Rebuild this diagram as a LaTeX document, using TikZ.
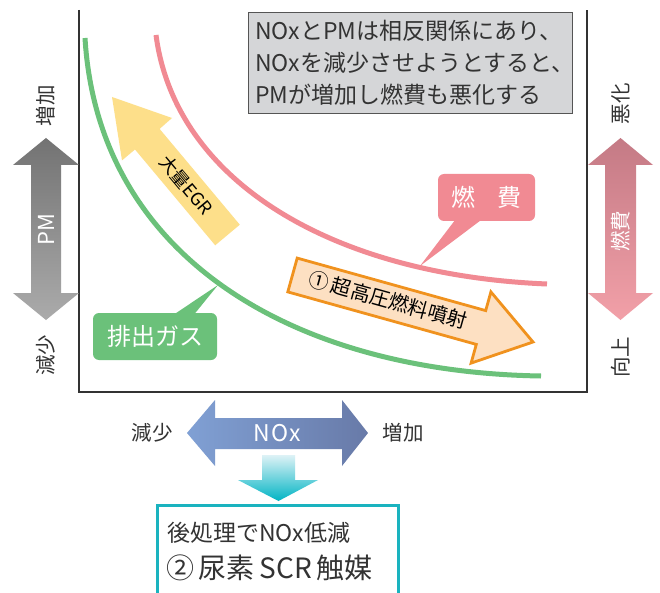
\documentclass[tikz,border=0pt]{standalone}
\usepackage{fontspec}
\setmainfont{Noto Sans CJK JP}
\usetikzlibrary{calc}
\definecolor{txt}{HTML}{333333}
\definecolor{greenc}{HTML}{6BC17A}
\definecolor{pinkc}{HTML}{F18A93}
\definecolor{boxgray}{HTML}{D5D6D8}
\definecolor{boxedge}{HTML}{555555}
\definecolor{egr}{HTML}{FDDF8A}
\definecolor{orfill}{HTML}{FDE0C2}
\definecolor{oredge}{HTML}{F0921E}
\definecolor{cyanc}{HTML}{1AB3BF}
\tikzset{
  curve/.style={line width=5pt},
  lbl/.style={text=txt, font=\fontsize{20.5}{22}\selectfont, inner sep=0pt},
  callout/.style={rounded corners=6pt, text=white, font=\fontsize{24}{26}\selectfont, inner sep=0pt},
}
\begin{document}
\begin{tikzpicture}[x=1pt,y=-1pt]
\clip (0,0) rectangle (660,593);
\useasboundingbox (0,0) rectangle (660,593);
\fill[white] (0,0) rectangle (660,593);

% frame
\draw[line width=1.6pt, black!80] (79,10) -- (79,392) -- (587,392) -- (587,10);

% curves
\draw[curve, greenc] (85,38) .. controls (98,255) and (290,372) .. (541,376);
\draw[curve, pinkc] (156,35) .. controls (175,180) and (330,275) .. (547,284);

% top text box
\node[draw=boxedge, line width=1pt, fill=boxgray, minimum width=324pt, minimum height=101pt, anchor=north west, inner sep=0pt] (note) at (248,12) {};
\node[text=txt, align=left, anchor=west, inner sep=0pt, font=\fontsize{23}{32}\selectfont] (notetext) at ([xshift=7pt]note.west)
  {NOxとPMは相反関係にあり、\\NOxを減少させようとすると、\\PMが増加し燃費も悪化する};

% EGR arrow
\fill[egr] (112,97) -- (172,118) -- (159.6,128.9) -- (239.8,224.7) -- (215.2,245.3) -- (135,149.5) -- (122,160.4) -- cycle;
\node[rotate=-50, text=black, inner sep=0pt, font=\fontsize{18}{20}\selectfont] (egrtext) at (186,185) {大量EGR};

% fuel injection arrow
\draw[fill=orfill, draw=oredge, line width=2.8pt, line join=miter] (297.2,258.1) -- (485.7,310.6) -- (490.9,291.9) -- (533,342) -- (471.1,363.1) -- (476.3,344.4) -- (287.8,291.9) -- cycle;
\node[rotate=-15.6, text=black, inner sep=0pt, font=\fontsize{20}{22}\selectfont] (injtext) at (388,300) {①\,超高圧燃料噴射};

% callouts
\node[callout, fill=pinkc, minimum width=97pt, minimum height=47pt] (fuel) at (486.5,197.5) {燃\hspace{0.9em}費};
\coordinate (fueltip) at (420,266);
\fill[pinkc] ([xshift=-30pt,yshift=3pt]fuel.south) -- (fueltip) -- ([xshift=-3pt,yshift=3pt]fuel.south) -- cycle;

\node[callout, fill=greenc, minimum width=124pt, minimum height=47pt] (exhaust) at (155,336.5) {排出ガス};
\coordinate (exhausttip) at (218,285);
\fill[greenc] ([xshift=17pt,yshift=-3pt]exhaust.north) -- (exhausttip) -- ([xshift=38pt,yshift=-3pt]exhaust.north) -- cycle;

% PM arrow (left)
\path[top color=black!55, bottom color=black!33] (46,138) -- (79,165) -- (61,165) -- (61,293) -- (79,293) -- (46,320) -- (13,293) -- (31,293) -- (31,165) -- (13,165) -- cycle;
\node[rotate=90, text=white, inner sep=0pt, font=\fontsize{22}{24}\selectfont] (pm) at (46,230) {PM};
\node[lbl, rotate=90] (pmup) at (46,106) {増加};
\node[lbl, rotate=90] (pmdown) at (46,355) {減少};

% fuel arrow (right)
\path[top color={rgb,255:red,196;green,122;blue,133}, bottom color={rgb,255:red,242;green,160;blue,168}] (620.5,138) -- (653,165) -- (636,165) -- (636,293) -- (653,293) -- (620.5,320) -- (588,293) -- (605,293) -- (605,165) -- (588,165) -- cycle;
\node[rotate=90, text=white, inner sep=0pt, font=\fontsize{20.5}{22}\selectfont] (fc) at (620.5,231) {燃費};
\node[lbl, rotate=90] (fcup) at (620.5,104) {悪化};
\node[lbl, rotate=90] (fcdown) at (620.5,357) {向上};

% NOx arrow
\path[left color={rgb,255:red,128;green,160;blue,212}, right color={rgb,255:red,104;green,122;blue,168}] (187,433) -- (215,400) -- (215,418) -- (342,418) -- (342,400) -- (368,433) -- (342,466) -- (342,449) -- (215,449) -- (215,466) -- cycle;
\node[text=white, inner sep=0pt, font=\fontsize{23}{25}\selectfont] (nox) at (277,433) {N\kern1ptO\kern1ptx};
\node[lbl] (noxdown) at (152,433) {減少};
\node[lbl] (noxup) at (403,433) {増加};

% cyan down arrow
\path[top color={rgb,255:red,222;green,242;blue,246}, bottom color={rgb,255:red,0;green,180;blue,196}] (262,455) -- (295,455) -- (295,480) -- (318,480) -- (278.5,501) -- (238,480) -- (262,480) -- cycle;

% bottom box
\draw[cyanc, line width=3pt] (157,620) -- (157,505) -- (398,505) -- (398,620);
\node[text=txt, anchor=west, inner sep=0pt, font=\fontsize{23}{25}\selectfont] (after) at (167,533) {後処理でNOx低減};
\node[text=txt, anchor=west, inner sep=0pt, font=\fontsize{28}{30}\selectfont] (scr) at (166,568) {②\,尿素\,SCR\,触媒};
\end{tikzpicture}
\end{document}
